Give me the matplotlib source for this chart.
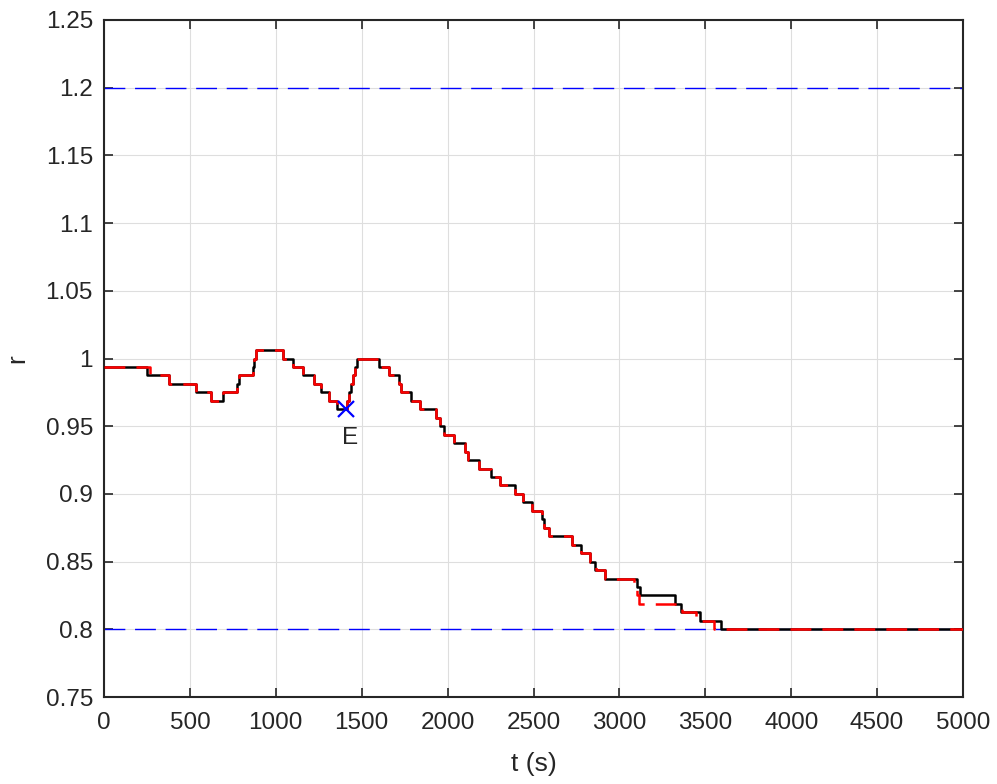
import matplotlib
matplotlib.use("Agg")
import matplotlib.pyplot as plt
import numpy as np

plt.rcParams['font.family'] = ['Liberation Sans', 'DejaVu Sans']
plt.rcParams['lines.scale_dashes'] = False

# Limits of the band
r_upper = 1.2
r_lower = 0.8

# Reference trajectory r(t) (piecewise constant, value holds from each switching time)
ref_t = [0, 248, 378, 535, 623, 695, 775, 785, 865, 875, 885, 1042, 1100, 1156, 1222,
         1263, 1312, 1354, 1412, 1428, 1440, 1451, 1461, 1471, 1600, 1657, 1718, 1728,
         1788, 1839, 1934, 1957, 1977, 2036, 2099, 2116, 2182, 2254, 2305, 2395, 2441,
         2494, 2548, 2563, 2592, 2724, 2775, 2829, 2858, 2916, 3100, 3120, 3326, 3360,
         3472, 3591, 5000]
ref_r = [0.99375, 0.9875, 0.98125, 0.975, 0.96875, 0.975, 0.98125, 0.9875, 0.99375, 1.0,
         1.00625, 1.0, 0.99375, 0.9875, 0.98125, 0.975, 0.96875, 0.9625, 0.96875, 0.975,
         0.98125, 0.9875, 0.99375, 1.0, 0.99375, 0.9875, 0.98125, 0.975, 0.96875, 0.9625,
         0.95625, 0.95, 0.94375, 0.9375, 0.93125, 0.925, 0.91875, 0.9125, 0.90625, 0.9,
         0.89375, 0.8875, 0.88125, 0.875, 0.86875, 0.8625, 0.85625, 0.85, 0.84375, 0.8375,
         0.83125, 0.825, 0.81875, 0.8125, 0.80625, 0.8, 0.8]

# Actual r(t)
act_t = [0, 268, 378, 535, 623, 695, 775, 785, 865, 875, 885, 1042, 1100, 1156, 1222,
         1263, 1312, 1354, 1412, 1428, 1440, 1451, 1461, 1471, 1600, 1657, 1718, 1728,
         1788, 1839, 1934, 1957, 1977, 2036, 2099, 2116, 2182, 2254, 2305, 2395, 2441,
         2494, 2548, 2563, 2592, 2724, 2775, 2829, 2862, 2916, 3085, 3100, 3112, 3365,
         3445, 3548, 5000]
act_r = [0.99375, 0.9875, 0.98125, 0.975, 0.96875, 0.975, 0.98125, 0.9875, 0.99375, 1.0,
         1.00625, 1.0, 0.99375, 0.9875, 0.98125, 0.975, 0.96875, 0.9625, 0.96875, 0.975,
         0.98125, 0.9875, 0.99375, 1.0, 0.99375, 0.9875, 0.98125, 0.975, 0.96875, 0.9625,
         0.95625, 0.95, 0.94375, 0.9375, 0.93125, 0.925, 0.91875, 0.9125, 0.90625, 0.9,
         0.89375, 0.8875, 0.88125, 0.875, 0.86875, 0.8625, 0.85625, 0.85, 0.84375, 0.8375,
         0.83125, 0.825, 0.81875, 0.8125, 0.80625, 0.8, 0.8]

# Event point E
event_t = 1409
event_r = 0.9625
event_label = 'E'

x_ticks = [0, 500, 1000, 1500, 2000, 2500, 3000, 3500, 4000, 4500, 5000]
y_ticks = [0.75, 0.8, 0.85, 0.9, 0.95, 1.0, 1.05, 1.1, 1.15, 1.2, 1.25]
y_tick_labels = ['0.75', '0.8', '0.85', '0.9', '0.95', '1', '1.05', '1.1', '1.15', '1.2', '1.25']

fs = 17.5
txt = '#262626'

fig = plt.figure(figsize=(9.97, 7.84), dpi=100)
ax = fig.add_axes([104 / 997, (784 - 697) / 784, (963 - 104) / 997, (697 - 20) / 784])

ax.set_xlim(0, 5000)
ax.set_ylim(0.75, 1.25)
ax.set_xticks(x_ticks)
ax.set_xticklabels([str(v) for v in x_ticks])
ax.set_yticks(y_ticks)
ax.set_yticklabels(y_tick_labels)

ax.grid(True, color='#dedede', linewidth=0.8)
ax.set_axisbelow(True)

# band limits
ax.axhline(r_upper, color='#0000ff', linewidth=1.0, dashes=(15, 7), zorder=2)
ax.axhline(r_lower, color='#0000ff', linewidth=1.0, dashes=(15, 7), zorder=2)

ax.step(ref_t, ref_r, where='post', color='black', linewidth=1.8, zorder=3)
ax.step(act_t, act_r, where='post', color='#ff0000', linewidth=1.8,
        dashes=(15, 8), zorder=4)

ax.plot([event_t], [event_r], marker='x', color='#0000ff', markersize=11,
        markeredgewidth=1.6, linestyle='none', zorder=5)
ax.annotate(event_label, (event_t, event_r), xytext=(3, -21), textcoords='offset points',
            ha='center', va='center', fontsize=fs, color=txt)

for s in ax.spines.values():
    s.set_color(txt)
    s.set_linewidth(1.5)

ax.tick_params(axis='both', which='both', direction='in', length=6.5, width=1.2,
               top=True, right=True, color=txt, labelcolor=txt, labelsize=fs)
ax.tick_params(axis='x', pad=11)
ax.tick_params(axis='y', pad=8)

ax.set_xlabel('t (s)', fontsize=19, color=txt, labelpad=13)
ax.set_ylabel('r', fontsize=19, color=txt, labelpad=12)

fig.savefig('out.png', dpi=100)
